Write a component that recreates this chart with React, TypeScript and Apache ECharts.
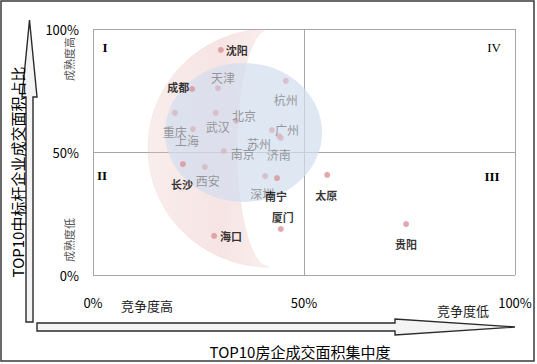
import React, { useEffect, useRef } from 'react';
import * as echarts from 'echarts';

// ---- data ----
const cities = ['沈阳', '成都', '天津', '杭州', '重庆', '武汉', '北京', '上海', '广州', '苏州', '济南', '南京', '长沙', '西安', '深圳', '南宁', '厦门', '海口', '太原', '贵阳'];
const concentration = [30.3, 23.5, 29.6, 45.7, 19.4, 29.1, 33.9, 23.7, 42.4, 44.1, 44.5, 31.0, 21.3, 26.5, 40.8, 43.6, 44.5, 28.7, 55.5, 74.2];
const maturity = [91.5, 75.6, 76.0, 78.9, 65.9, 65.9, 62.6, 59.3, 58.9, 56.5, 55.7, 50.4, 45.1, 43.9, 40.2, 39.4, 18.7, 15.9, 40.7, 20.7];
const outerCities = ['沈阳', '成都', '长沙', '南宁', '厦门', '海口', '太原', '贵阳'];
const tickValues = [0, 50, 100];
const tickLabels = ['0%', '50%', '100%'];
const quadrantNames = ['I', 'II', 'III', 'IV'];
const xTitle = 'TOP10房企成交面积集中度';
const yTitle = 'TOP10中标杆企业成交面积占比';

// ---- layout (label offsets in px) ----
const labelOffsets: Record<string, [number, number]> = {
  沈阳: [16, 0], 成都: [-14, -2], 天津: [5, -11], 杭州: [0, 19], 重庆: [0, 19],
  武汉: [2, 14], 北京: [8, -6], 上海: [-6, 11], 广州: [15, -1], 苏州: [-20, 7],
  济南: [-2, 17], 南京: [19, 2], 长沙: [-1, 20], 西安: [3, 13], 深圳: [-3, 17],
  南宁: [-1, 18], 厦门: [2, -12], 海口: [17, 0], 太原: [-1, 20], 贵阳: [0, 20],
};

const FONT = '"Noto Sans CJK SC", "Noto Sans", sans-serif';
const SERIF = '"Liberation Serif", "DejaVu Serif", serif';

// moon shape: outer half-ellipse and inner half-ellipse sharing tips
function crescentPoints() {
  const cx = 269, cy = 148, ry = 119, rxOuter = 121, rxInner = 32;
  const pts: number[][] = [];
  const N = 90;
  for (let i = 0; i <= N; i++) {
    const a = -Math.PI / 2 - (Math.PI * i) / N;
    pts.push([cx + rxOuter * Math.cos(a), cy + ry * Math.sin(a)]);
  }
  for (let i = 0; i <= N; i++) {
    const a = Math.PI / 2 + (Math.PI * i) / N;
    pts.push([cx + rxInner * Math.cos(a), cy + ry * Math.sin(a)]);
  }
  return pts;
}

function txt(text: string, x: number, y: number, size: number, opts: any = {}) {
  return {
    type: 'text',
    x,
    y,
    rotation: opts.rotation || 0,
    z: 5,
    style: {
      text,
      fill: opts.color || '#000',
      fontSize: size,
      fontFamily: opts.family || FONT,
      fontWeight: opts.weight || 'normal',
      align: 'center',
      verticalAlign: 'middle',
      textAlign: 'center',
      textVerticalAlign: 'middle',
    },
  };
}

export default function App() {
  const ref = useRef<HTMLDivElement>(null);
  useEffect(() => {
    if (!ref.current) return;
    const chart = echarts.init(ref.current, undefined, { renderer: 'svg' });
    const fmt = (v: number) => {
      const i = tickValues.indexOf(v);
      return i >= 0 ? tickLabels[i] : '';
    };
    const data = cities.map((c, i) => {
      const outer = outerCities.includes(c);
      return {
        name: c,
        value: [concentration[i], maturity[i]],
        itemStyle: { color: outer ? '#d99499' : '#d6b7c2' },
        label: {
          offset: labelOffsets[c],
          color: outer ? '#000' : '#808080',
          fontWeight: outer ? 'bold' : 'normal',
          fontSize: outer ? 11 : 12,
        },
      };
    });
    const option: any = {
      animation: false,
      grid: { left: 93, top: 29, width: 422, height: 246, show: false },
      xAxis: {
        type: 'value', min: 0, max: 100, interval: 50,
        axisLine: { show: false }, axisTick: { show: false },
        splitLine: { show: true, lineStyle: { color: '#a6a6a6', width: 1 } },
        axisLabel: { formatter: fmt, margin: 21, fontSize: 13, color: '#000', fontFamily: FONT, showMinLabel: true, showMaxLabel: true },
      },
      yAxis: {
        type: 'value', min: 0, max: 100, interval: 50,
        axisLine: { show: false }, axisTick: { show: false },
        splitLine: { show: true, lineStyle: { color: '#a6a6a6', width: 1 } },
        axisLabel: { formatter: fmt, margin: 14, fontSize: 13, color: '#000', fontFamily: FONT, showMinLabel: true, showMaxLabel: true },
      },
      graphic: [
        {
          type: 'polygon', z: 1, z2: 0, silent: true,
          shape: { points: crescentPoints() },
          style: {
            fill: new echarts.graphic.LinearGradient(0, 0, 1, 0, [
              { offset: 0, color: 'rgba(236,196,194,0.3)' },
              { offset: 0.6, color: 'rgba(228,176,174,0.34)' },
              { offset: 1, color: 'rgba(236,196,194,0.28)' },
            ]),
            stroke: 'rgba(220,170,170,0.25)', lineWidth: 0.6,
          },
        },
        {
          type: 'ellipse', z: 1, z2: 1, silent: true,
          shape: { cx: 243.5, cy: 132.5, rx: 78.5, ry: 69.5 },
          style: { fill: 'rgba(210,222,238,0.72)' },
        },
        {
          type: 'rect', z: 5, silent: true,
          shape: { x: 1, y: 1, width: 533, height: 360 },
          style: { fill: 'none', stroke: '#3a3a3a', lineWidth: 1.5 },
        },
        {
          type: 'polygon', z: 5, silent: true,
          shape: { points: [[26, 322], [33, 322], [33, 97], [37, 97], [29.5, 20], [22, 97], [26, 97]] },
          style: { fill: '#f4f4f4', stroke: '#2a2a2a', lineWidth: 1.4 },
        },
        {
          type: 'polygon', z: 5, silent: true,
          shape: { points: [[37, 323], [395, 323], [395, 319], [515, 327], [395, 335], [395, 331], [37, 331]] },
          style: { fill: '#f4f4f4', stroke: '#2a2a2a', lineWidth: 1.4 },
        },
        txt(yTitle, 17, 172, 15, { rotation: Math.PI / 2 }),
        txt(xTitle, 300, 351, 15),
        txt('竞争度高', 147, 305, 13, { color: '#222' }),
        txt('竞争度低', 463, 310, 13, { color: '#222' }),
        txt('成熟度高', 69, 59, 11, { rotation: Math.PI / 2, color: '#555' }),
        txt('成熟度低', 69, 240, 11, { rotation: Math.PI / 2, color: '#555' }),
        txt(quadrantNames[0], 105, 47, 13, { family: SERIF, weight: 'bold' }),
        txt(quadrantNames[1], 102, 175, 13, { family: SERIF, weight: 'bold' }),
        txt(quadrantNames[2], 492, 176, 13, { family: SERIF, weight: 'bold' }),
        txt(quadrantNames[3], 494, 47, 13, { family: SERIF }),
      ],
      series: [
        {
          type: 'scatter',
          z: 3,
          symbolSize: 6,
          data,
          label: {
            show: true,
            position: 'inside',
            formatter: '{b}',
            fontFamily: FONT,
          },
        },
      ],
    };
    chart.setOption(option);
    return () => chart.dispose();
  }, []);
  return (
    <div
      ref={ref}
      style={{ position: 'fixed', left: 0, top: 0, width: 537, height: 364, background: '#fff' }}
    />
  );
}
